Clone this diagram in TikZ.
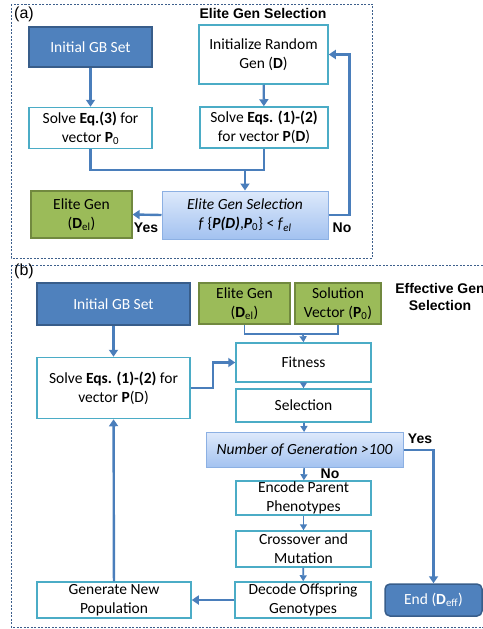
\documentclass[tikz,border=0pt]{standalone}
\usepackage{fontspec}
\setmainfont{Carlito}
\newfontfamily\arialfont{Liberation Sans}
\usetikzlibrary{arrows.meta}

\definecolor{gbblue}{HTML}{4F81BD}
\definecolor{gbedge}{HTML}{385D8A}
\definecolor{cyanedge}{HTML}{4BACC6}
\definecolor{elitegreen}{HTML}{9BBB59}
\definecolor{greenedge}{HTML}{71893F}
\definecolor{seltop}{HTML}{DDE9FB}
\definecolor{selbot}{HTML}{A3C2F0}
\definecolor{seledge}{HTML}{8CB0E3}
\definecolor{flowblue}{HTML}{4A7EBB}
\definecolor{framecol}{HTML}{3D5F8C}

\begin{document}
\begin{tikzpicture}[x=1pt, y=-1pt,
    font=\fontsize{15.5}{19}\selectfont,
    every node/.style={align=center, inner sep=0.5pt},
    gbbox/.style={fill=gbblue, draw=gbedge, line width=1.5pt, text=white},
    whitebox/.style={fill=white, draw=cyanedge, line width=1.5pt},
    greenbox/.style={fill=elitegreen, draw=greenedge, line width=1.2pt},
    testbox/.style={top color=seltop, bottom color=selbot, draw=seledge, line width=1pt},
    flow/.style={draw=flowblue, line width=2.4pt, -{Triangle[length=7pt, width=9pt]}},
    link/.style={draw=flowblue, line width=2.4pt},
    thinflow/.style={draw=flowblue, line width=1.7pt, -{Triangle[length=6pt, width=7pt]}},
    thinlink/.style={draw=flowblue, line width=1.7pt},
    panel/.style={draw=framecol, line width=0.8pt, dash pattern=on 2pt off 1.5pt},
    tag/.style={font=\arialfont\fontsize{14}{17}\selectfont\bfseries}]
    \useasboundingbox (0,0) rectangle (482,629);

    % panel (a)
    \draw[panel] (11,4) rectangle (372,258);
    \node[font=\arialfont\fontsize{16}{18}\selectfont] (alabel) at (24,14) {(a)};
    \node[tag] (atitle) at (263,13) {Elite Gen Selection};

    \node[gbbox, minimum width=123pt, minimum height=40pt] (ainit) at (90.5,47) {Initial GB Set};
    \node[whitebox, minimum width=129pt, minimum height=59pt] (arand) at (263.5,54.5) {Initialize Random\\Gen (\textbf{D})};
    \node[whitebox, minimum width=123pt, minimum height=41pt] (aeqthree) at (90.5,128) {Solve \textbf{Eq.(3)} for\\vector \textbf{P}\textsubscript{0}};
    \node[whitebox, minimum width=128pt, minimum height=41pt] (aeqs) at (264,127.5) {Solve \textbf{Eqs. (1)-(2)}\\for vector \textbf{P}(\textbf{D})};
    \node[testbox, minimum width=166pt, minimum height=48pt] (asel) at (245,215) {\textit{Elite Gen Selection}\\\textit{f} \{\textbf{\textit{P(D)}},\textbf{\textit{P}}\textsubscript{0}\} < \textit{f}\textsubscript{\textit{el}}};
    \node[greenbox, minimum width=101pt, minimum height=47pt] (aelite) at (81.5,214.5) {Elite Gen\\(\textbf{D}\textsubscript{el})};
    \coordinate (amerge) at (245,170);

    \draw[flow] (ainit) -- (aeqthree);
    \draw[flow] (arand) -- (aeqs);
    \draw[link] (aeqthree.south) |- (amerge);
    \draw[link] (aeqs.south) |- (amerge);
    \draw[flow] (amerge) -- (asel.north);
    \draw[flow] (asel.west) -- (aelite.east);
    \draw[flow] (asel.east) -- ++(21,0) |- (arand.east);
    \node[tag] (ayes) at (146,228) {Yes};
    \node[tag] (ano) at (342,228) {No};

    % panel (b)
    \draw[panel] (11,265) rectangle (492,627);
    \node[font=\arialfont\fontsize{16}{18}\selectfont] (blabel) at (24,271) {(b)};
    \node[tag] (btitle) at (440,297) {Effective Gen\\Selection};

    \node[gbbox, minimum width=153pt, minimum height=42pt] (binit) at (113.5,304) {Initial GB Set};
    \node[greenbox, minimum width=91pt, minimum height=41pt] (belite) at (244.5,303.5) {Elite Gen\\(\textbf{D}\textsubscript{el})};
    \node[greenbox, minimum width=86pt, minimum height=41pt] (bsol) at (338,303.5) {Solution\\Vector (\textbf{P}\textsubscript{0})};
    \node[whitebox, minimum width=135pt, minimum height=39pt] (bfit) at (303.5,362.5) {Fitness};
    \node[whitebox, minimum width=153pt, minimum height=61pt] (bsolve) at (113.5,388) {Solve \textbf{Eqs. (1)-(2)} for\\vector \textbf{P}(D)};
    \node[whitebox, minimum width=135pt, minimum height=33pt] (bsel) at (303.5,405.5) {Selection};
    \node[testbox, minimum width=197pt, minimum height=35pt] (bnum) at (304.5,450) {\textit{Number of Generation >100}};
    \node[whitebox, minimum width=135pt, minimum height=34pt] (benc) at (303.5,498) {Encode Parent\\Phenotypes};
    \node[whitebox, minimum width=135pt, minimum height=36pt] (bcross) at (303.5,549) {Crossover and\\Mutation};
    \node[whitebox, minimum width=136pt, minimum height=36pt] (bdec) at (303,600) {Decode Offspring\\Genotypes};
    \node[whitebox, minimum width=154pt, minimum height=36pt] (bgen) at (114,600) {Generate New\\Population};
    \node[gbbox, rounded corners=5pt, minimum width=97pt, minimum height=32pt] (bend) at (433.5,600) {End (\textbf{D}\textsubscript{eff})};
    \coordinate (bmerge) at (303,334);

    \draw[flow] (binit) -- (bsolve);
    \draw[thinlink] (belite.south) |- (bmerge);
    \draw[thinlink] (bsol.south) |- (bmerge);
    \draw[thinflow] (bmerge) -- (bfit.north);
    \draw[flow] (bsolve.east) -- ++(22,0) |- (bfit.west);
    \draw[thinflow] (bfit) -- (bsel);
    \draw[thinflow] (bsel) -- (bnum);
    \draw[thinflow] (bnum) -- (benc);
    \draw[thinflow] (benc) -- (bcross);
    \draw[thinflow] (bcross) -- (bdec);
    \draw[flow] (bnum.east) -| (bend.north);
    \draw[flow] (bdec) -- (bgen);
    \draw[flow] (bgen) -- (bsolve);
    \node[tag] (byes) at (420,439) {Yes};
    \node[tag] (bno) at (330,474) {No};
\end{tikzpicture}
\end{document}
